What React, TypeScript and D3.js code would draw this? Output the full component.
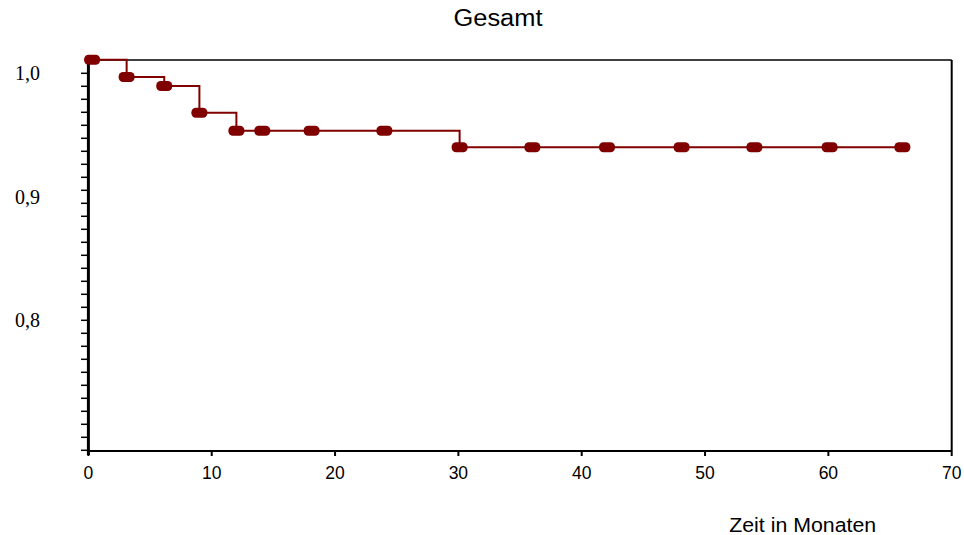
import React from "react";
import * as d3 from "d3";

// Kaplan-Meier step data
const stepTimes = [0, 3.1, 6.15, 9.0, 12.0, 30.1];
const survival = [1.011, 0.997, 0.9897, 0.9681, 0.9535, 0.9401];
const endTime = 66;
const censorTimes = [0.3, 3.1, 6.15, 9.0, 12.0, 14.1, 18.1, 24.0, 30.1, 36.0, 42.05, 48.1, 54.0, 60.1, 66.0];

const xTicks = [0, 10, 20, 30, 40, 50, 60, 70];
const yTicks = [1.0, 0.9, 0.8];
const yTickLabels = ["1,0", "0,9", "0,8"];

const width = 964;
const height = 535;
const left = 88.4;
const right = 951.7;
const top = 60;
const bottom = 451;

const red = "#800000";

export default function App() {
  const x = d3.scaleLinear().domain([0, 70]).range([left, right]);
  const y = d3.scaleLinear().domain([0.8, 1.0]).range([320.3, 73.3]);

  // minor ticks every 13 px as in the picture
  const minorTicks = d3.range(30).map(k => 1 - (k * 0.2) / 19);

  const valueAt = (t: number) => {
    let v = survival[0];
    stepTimes.forEach((s, i) => {
      if (t >= s - 1e-9) v = survival[i];
    });
    return v;
  };

  const pts: [number, number][] = stepTimes.map((t, i) => [t, survival[i]]);
  pts.push([endTime, survival[survival.length - 1]]);
  const line = d3.line<[number, number]>()
    .x(d => x(d[0]))
    .y(d => y(d[1]))
    .curve(d3.curveStepAfter);

  return (
    <svg width={width} height={height} style={{ position: "absolute", left: 0, top: 0, background: "#fff" }}>
      <text x={498} y={26} textAnchor="middle" fontFamily="Liberation Sans, Arial" fontSize={23}
        textLength={89} lengthAdjust="spacingAndGlyphs">Gesamt</text>

      {/* frame */}
      <line x1={left} x2={right} y1={top} y2={top} stroke="#000" strokeWidth={1.5} />
      <line x1={right} x2={right} y1={top} y2={bottom} stroke="#000" strokeWidth={2} />
      <line x1={left} x2={right} y1={bottom} y2={bottom} stroke="#000" strokeWidth={2} />

      {/* y axis */}
      {minorTicks.map((v, i) => (
        <line key={i} x1={81} x2={left} y1={y(v)} y2={y(v)} stroke="#000" strokeWidth={1.5} />
      ))}
      {yTicks.map((v, i) => (
        <text key={i} x={40} y={y(v) + 6.7} textAnchor="end" fontFamily="Liberation Serif, Times New Roman" fontSize={20}>
          {yTickLabels[i]}
        </text>
      ))}
      <line x1={left} x2={left} y1={top} y2={bottom + 4} stroke="#000" strokeWidth={3} />

      {/* x axis */}
      {xTicks.map(t => (
        <g key={t}>
          <line x1={x(t)} x2={x(t)} y1={bottom} y2={bottom + 5} stroke="#000" strokeWidth={2} />
          <text x={x(t)} y={478.5} textAnchor="middle" fontFamily="Liberation Sans, Arial" fontSize={17.5}>{t}</text>
        </g>
      ))}
      <text x={802.7} y={532} textAnchor="middle" fontFamily="Liberation Sans, Arial" fontSize={20.5}
        textLength={147} lengthAdjust="spacingAndGlyphs">Zeit in Monaten</text>

      {/* survival curve */}
      <path d={line(pts) || ""} fill="none" stroke={red} strokeWidth={2} />
      {censorTimes.map((t, i) => (
        <rect key={i} x={x(t) - 8} y={y(valueAt(t)) - 5} width={16} height={10} rx={4.5} ry={4.5} fill={red} />
      ))}
    </svg>
  );
}
